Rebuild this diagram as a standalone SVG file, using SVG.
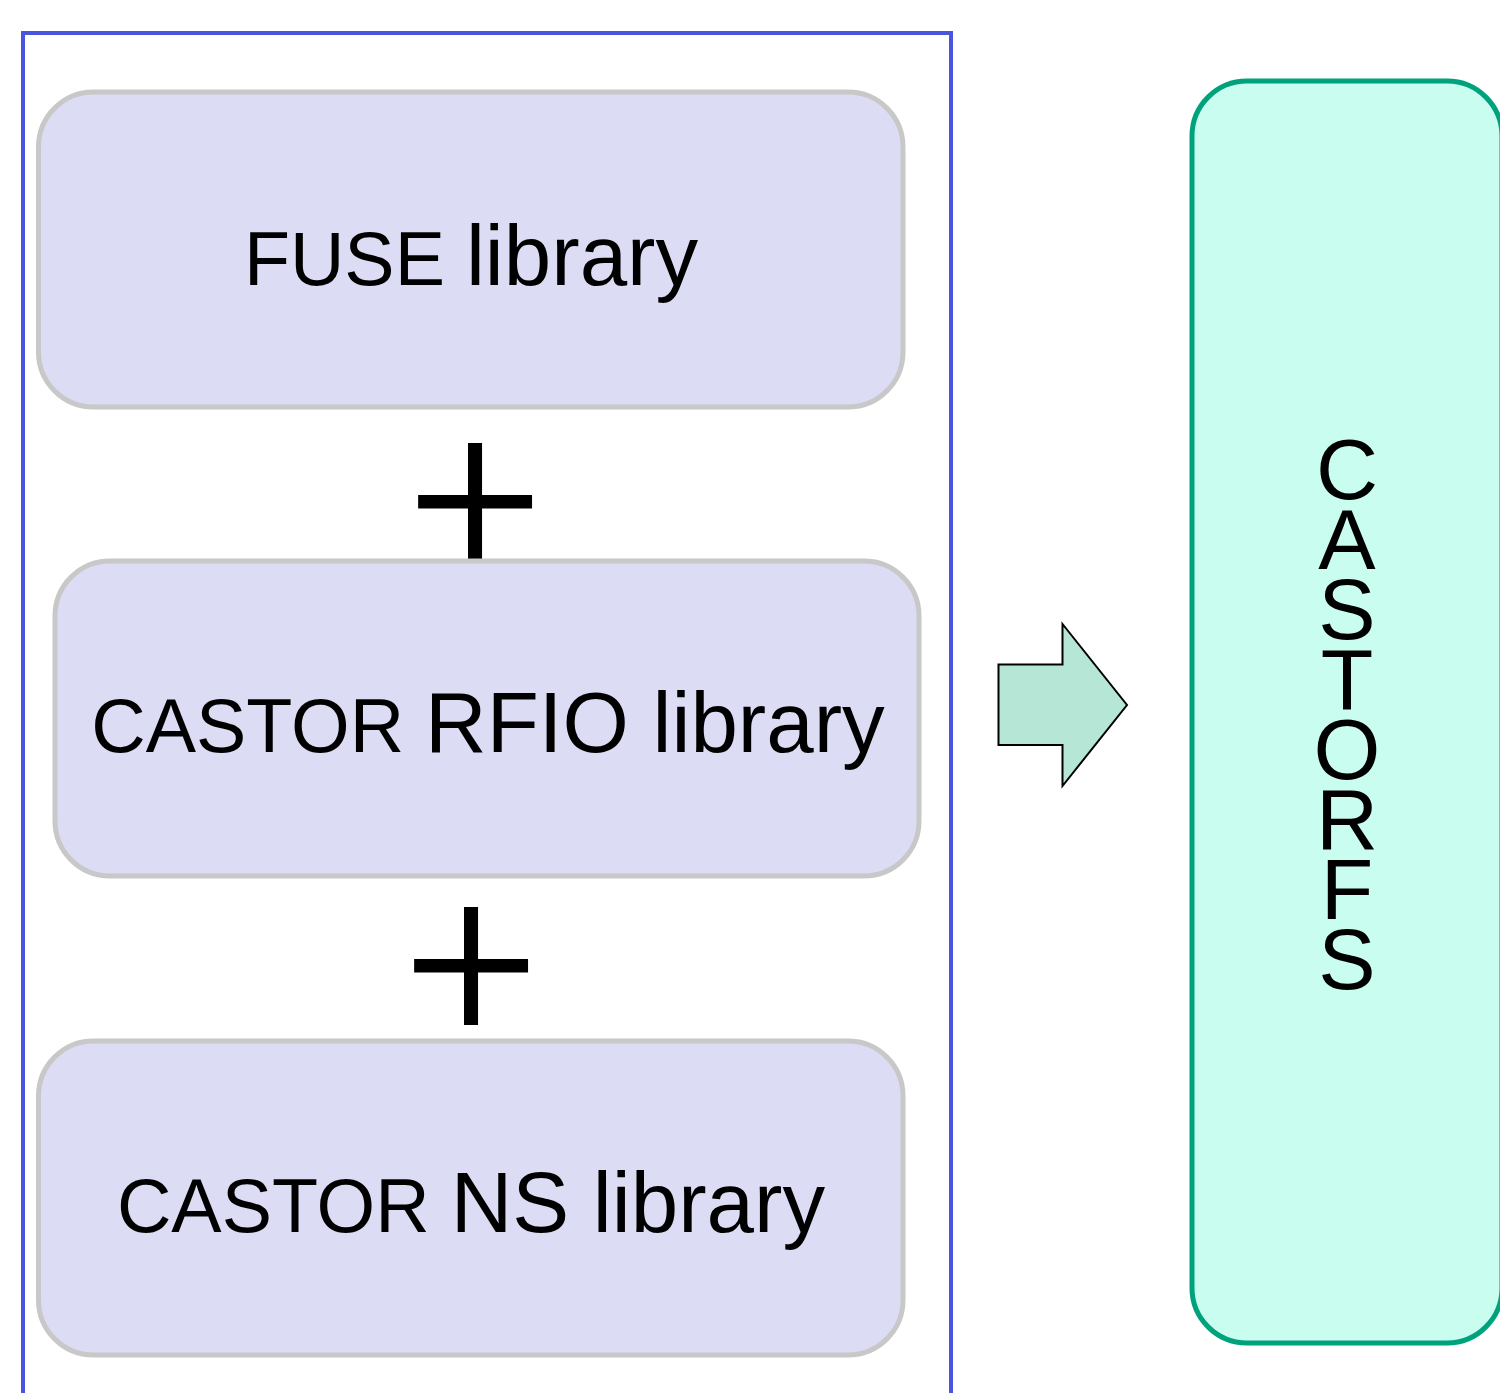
<svg xmlns="http://www.w3.org/2000/svg" width="1500" height="1393" viewBox="0 0 1500 1393">
<style>
.lib{fill:#dcdcf5;stroke:#c8c8c8;stroke-width:5}
.t{font-family:"Liberation Sans",Arial,sans-serif;fill:#000;text-anchor:middle}
.s{font-size:75.4px}
.b{font-size:85.3px}
.plus{font-family:Lato,"Liberation Sans",sans-serif;font-weight:300;font-size:232px;text-anchor:middle;fill:#000;stroke:#000;stroke-width:5;stroke-linejoin:miter}
.v{font-family:"Liberation Sans",Arial,sans-serif;font-size:86px;fill:#000;text-anchor:middle}
</style>
<rect width="1500" height="1393" fill="#fff"/>
<g id="frame"><rect x="23" y="33" width="928" height="1400" fill="none" stroke="#4a54dc" stroke-width="4"/></g>
<g id="fuse"><rect class="lib" x="38.5" y="92" width="864.5" height="315" rx="55"/><text class="t" x="471" y="285"><tspan class="s">FUSE </tspan><tspan class="b">library</tspan></text></g>
<g id="plus1"><text class="plus" x="475" y="579">+</text></g>
<g id="rfio"><rect class="lib" x="55" y="561" width="864" height="315" rx="55"/><text class="t" x="488" y="752"><tspan class="s">CASTOR </tspan><tspan class="b">RFIO library</tspan></text></g>
<g id="plus2"><text class="plus" x="471" y="1043">+</text></g>
<g id="ns"><rect class="lib" x="38.5" y="1041" width="864.5" height="314" rx="55"/><text class="t" x="471" y="1232"><tspan class="s">CASTOR </tspan><tspan class="b">NS library</tspan></text></g>
<g id="connectors"><polygon points="998.5,664.5 1062.5,664.5 1062.5,624 1127,705 1062.5,786 1062.5,745 998.5,745" fill="#b5e6d6" stroke="#000" stroke-width="2" stroke-linejoin="miter"/></g>
<g id="castorfs"><rect x="1192" y="81" width="310" height="1262" rx="55" fill="#c9fdf0" stroke="#00a27c" stroke-width="5"/>
<text class="v" x="1347" y="499"><tspan x="1347">C</tspan><tspan x="1347" dy="70">A</tspan><tspan x="1347" dy="70">S</tspan><tspan x="1347" dy="70">T</tspan><tspan x="1347" dy="70">O</tspan><tspan x="1347" dy="70">R</tspan><tspan x="1347" dy="70">F</tspan><tspan x="1347" dy="70">S</tspan></text></g>
</svg>
